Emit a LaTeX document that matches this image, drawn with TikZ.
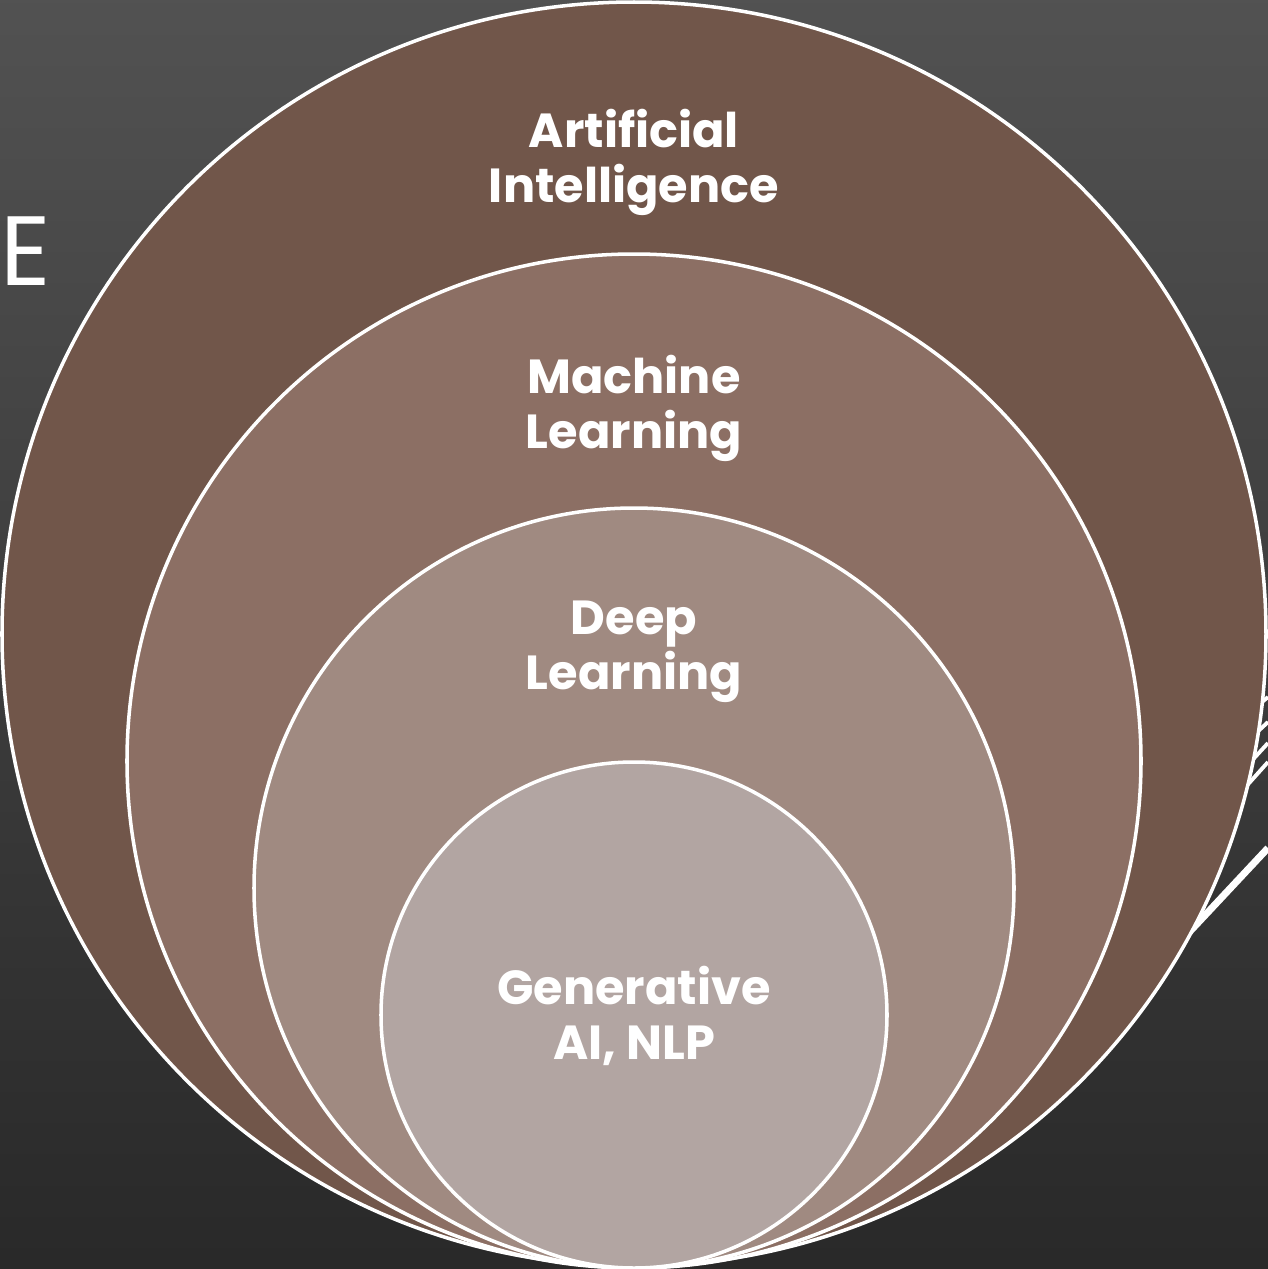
\documentclass[tikz,border=0pt]{standalone}
\usepackage{fontspec}
\newfontfamily\labelfont{Poppins}
\tikzset{
  ring/.style={draw=white, line width=1pt},
  ringlabel/.style={text=white, font=\labelfont\bfseries\fontsize{13.6}{15.6}\selectfont, align=center},
  edgeline/.style={draw=white, line width=1.1pt}
}
\definecolor{aicol}{HTML}{71564A}
\definecolor{mlcol}{HTML}{8C6F64}
\definecolor{dlcol}{HTML}{A08A81}
\definecolor{gencol}{HTML}{B2A5A2}
\begin{document}
\begin{tikzpicture}[x=0.01cm, y=-0.01cm]
        % background
        \shade[top color=black!68, bottom color=black!84] (0,0) rectangle (1268,1269);
        \useasboundingbox (0,0) rectangle (1268,1269);
        % lines leaving the picture on the right
        \coordinate (r1) at (1268, 697);
        \coordinate (r2) at (1268, 722);
        \coordinate (r3) at (1268, 743);
        \coordinate (r4) at (1268, 762);
        \coordinate (r5) at (1268, 848);
        \draw[edgeline] (r1) -- (1225, 733);
        \draw[edgeline] (r2) -- (1225, 762);
        \draw[edgeline] (r3) -- (1225, 790);
        \draw[edgeline] (r4) -- (1225, 810);
        \draw[edgeline, line width=2pt] (r5) -- (1180, 942);
        % centres of the circles
        \coordinate (aic)  at (634,  634);
        \coordinate (mlc)  at (634,  761);
        \coordinate (dlc)  at (634,  888);
        \coordinate (genc) at (634, 1015);
        % drawing the circles
        \fill[aicol]  (aic)  circle (632);
        \draw[ring]   (aic)  circle (632);
        \fill[mlcol]  (mlc)  circle (507);
        \draw[ring]   (mlc)  circle (507);
        \fill[dlcol]  (dlc)  circle (380);
        \draw[ring]   (dlc)  circle (380);
        \fill[gencol] (genc) circle (253);
        \draw[ring]   (genc) circle (253);
        % labels
        \node[ringlabel] (ai)  at (634, 162)  {Artificial\\Intelligence};
        \node[ringlabel] (ml)  at (634, 408)  {Machine\\Learning};
        \node[ringlabel] (dl)  at (634, 652)  {Deep\\Learning};
        \node[ringlabel] (gen) at (634, 1016) {Generative\\AI, NLP};
        % letter cut off on the left
        \node[text=white, font=\labelfont\fontsize{28}{30}\selectfont, anchor=west, inner sep=0pt] (edge) at (0, 251) {E};
\end{tikzpicture}
\end{document}
